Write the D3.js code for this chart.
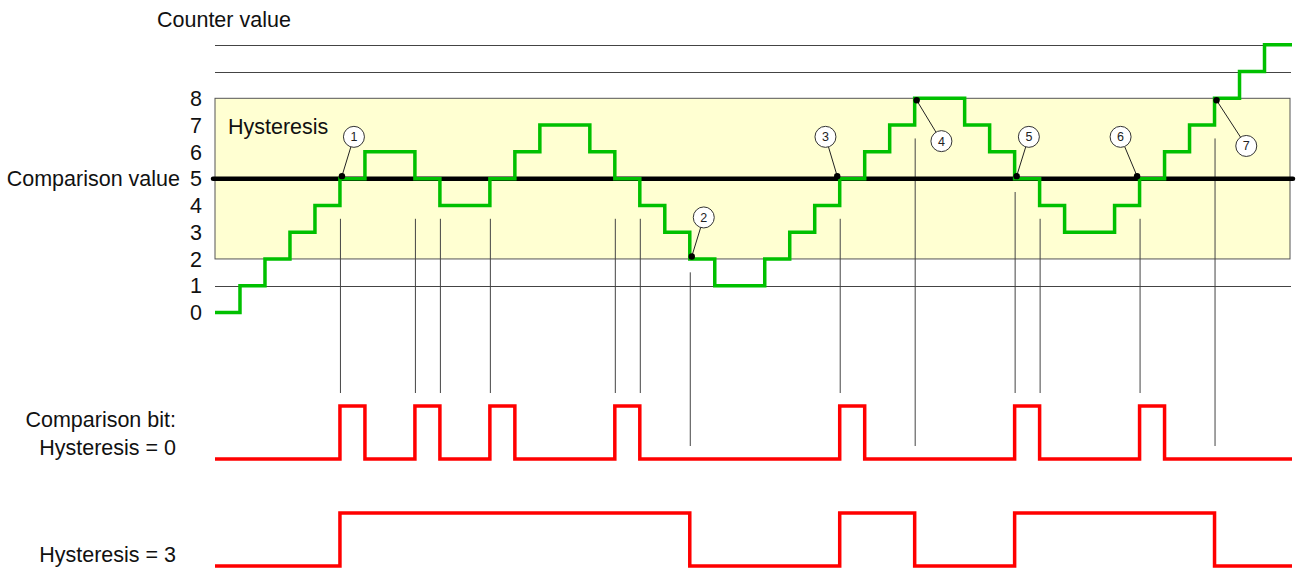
<!DOCTYPE html>
<html>
<head>
<meta charset="utf-8">
<script src="https://cdn.jsdelivr.net/npm/d3@7"></script>
<style>
  html, body { margin: 0; padding: 0; background: #fff; }
  svg { display: block; font-family: "Liberation Sans", Arial, sans-serif; }
</style>
</head>
<body>
<svg id="chart" width="1296" height="575"></svg>
<script>
// ---------------- data ----------------
// counter value at each time step (step width = one unit on the time axis)
const counterValues = [0,1,2,3,4,5,6,6,5,4,4,5,6,7,7,6,5,4,3,2,1,1,2,3,4,5,6,7,8,8,7,6,5,4,3,3,4,5,6,7,8,9,10];
// comparison bit, hysteresis = 0
const bitHyst0 = [0,0,0,0,0,1,0,0,1,0,0,1,0,0,0,0,1,0,0,0,0,0,0,0,0,1,0,0,0,0,0,0,1,0,0,0,0,1,0,0,0,0,0];
// comparison bit, hysteresis = 3
const bitHyst3 = [0,0,0,0,0,1,1,1,1,1,1,1,1,1,1,1,1,1,1,0,0,0,0,0,0,1,1,1,0,0,0,0,1,1,1,1,1,1,1,1,0,0,0];
const timeEnd = 43.1;

const yTicks = [0,1,2,3,4,5,6,7,8];
const gridValues = [1, 9, 10];
const comparisonValue = 5;
const hysteresisBand = [2, 8];

// vertical guide lines: time index and top (in counter units)
const guideIndex = [5, 8, 9, 11, 16, 17, 19, 25, 28, 32, 33, 37, 40];
const guideTop   = [3.5, 3.5, 3.5, 3.5, 3.5, 3.5, 1.5, 3.5, 6.5, 4.5, 3.5, 3.5, 6.5];

// numbered markers: time index, counter value, label offset (time units, counter units)
const markerNum = [1, 2, 3, 4, 5, 6, 7];
const markerIdx = [5, 19, 25, 28, 32, 37, 40];
const markerVal = [5, 2, 5, 8, 5, 5, 8];
const markerDx  = [0.56, 0.56, -0.57, 1.07, 0.57, -0.76, 1.27];
const markerDy  = [1.56, 1.55, 1.56, -1.6, 1.56, 1.56, -1.78];

const labels = {
  title: "Counter value",
  compValue: "Comparison value",
  hyst: "Hysteresis",
  bitLine1: "Comparison bit:",
  bitLine2: "Hysteresis = 0",
  hyst3: "Hysteresis = 3"
};

// ---------------- drawing ----------------
const svg = d3.select("#chart");
const FONT = "21.5px";

const x = d3.scaleLinear().domain([0, timeEnd]).range([215, 1292]);
const y = d3.scaleLinear().domain([0, 8]).range([312.5, 98.3]);
const ySig0 = d3.scaleLinear().domain([0, 1]).range([459, 406]);
const ySig3 = d3.scaleLinear().domain([0, 1]).range([566, 513]);

// hysteresis band
svg.append("rect")
  .attr("x", x(0)).attr("y", y(hysteresisBand[1]))
  .attr("width", x(timeEnd) - x(0) - 2)
  .attr("height", y(hysteresisBand[0]) - y(hysteresisBand[1]))
  .attr("fill", "#ffffd2").attr("stroke", "#555").attr("stroke-width", 1);

// grid lines
svg.selectAll("line.grid").data(gridValues).enter().append("line")
  .attr("class", "grid")
  .attr("x1", x(0)).attr("x2", x(timeEnd) - 1)
  .attr("y1", d => Math.round(y(d)) + 0.5).attr("y2", d => Math.round(y(d)) + 0.5)
  .attr("stroke", "#444").attr("stroke-width", 1);

// y tick labels
svg.selectAll("text.tick").data(yTicks).enter().append("text")
  .attr("class", "tick")
  .attr("x", 202).attr("y", d => y(d)).attr("dy", "0.36em")
  .attr("text-anchor", "end").attr("font-size", FONT).attr("fill", "#111")
  .text(d => d);

svg.append("text").attr("x", 180).attr("y", y(comparisonValue)).attr("dy", "0.36em")
  .attr("text-anchor", "end").attr("font-size", FONT).attr("fill", "#111")
  .text(labels.compValue);

svg.append("text").attr("x", 157).attr("y", 27).attr("font-size", FONT).attr("fill", "#111")
  .text(labels.title);

svg.append("text").attr("x", 228).attr("y", 133.5).attr("font-size", FONT).attr("fill", "#111")
  .text(labels.hyst);

// vertical guides
const guides = guideIndex.map((g, k) => ({ i: g, top: guideTop[k] }));
svg.selectAll("line.guide").data(guides).enter().append("line")
  .attr("class", "guide")
  .attr("x1", d => x(d.i) + 0.5).attr("x2", d => x(d.i) + 0.5)
  .attr("y1", d => y(d.top))
  .attr("y2", d => {
    const edge = bitHyst0[d.i] !== bitHyst0[d.i - 1];
    return edge ? ySig0(1) - 13 : ySig0(0) - 13;
  })
  .attr("stroke", "#444").attr("stroke-width", 1);

// comparison value line
svg.append("line")
  .attr("x1", 213).attr("x2", x(timeEnd) + 1)
  .attr("y1", y(comparisonValue)).attr("y2", y(comparisonValue))
  .attr("stroke", "#000").attr("stroke-width", 4.5).attr("stroke-linecap", "round");

// step helper
function stepPoints(arr) {
  const pts = arr.map((v, i) => [i, v]);
  pts.push([timeEnd, arr[arr.length - 1]]);
  return pts;
}

// counter value step line
const lineCounter = d3.line().curve(d3.curveStepAfter).x(d => x(d[0])).y(d => y(d[1]));
svg.append("path").attr("d", lineCounter(stepPoints(counterValues)))
  .attr("fill", "none").attr("stroke", "#00c000").attr("stroke-width", 3.5)
  .attr("stroke-linejoin", "miter");

// comparison bit signals
const lineSig0 = d3.line().curve(d3.curveStepAfter).x(d => x(d[0])).y(d => ySig0(d[1]));
const lineSig3 = d3.line().curve(d3.curveStepAfter).x(d => x(d[0])).y(d => ySig3(d[1]));
svg.append("path").attr("d", lineSig0(stepPoints(bitHyst0)))
  .attr("fill", "none").attr("stroke", "#ff0000").attr("stroke-width", 3.5);
svg.append("path").attr("d", lineSig3(stepPoints(bitHyst3)))
  .attr("fill", "none").attr("stroke", "#ff0000").attr("stroke-width", 3.5);

svg.append("text").attr("x", 176).attr("y", 427).attr("text-anchor", "end")
  .attr("font-size", FONT).attr("fill", "#111").text(labels.bitLine1);
svg.append("text").attr("x", 176).attr("y", 454.5).attr("text-anchor", "end")
  .attr("font-size", FONT).attr("fill", "#111").text(labels.bitLine2);
svg.append("text").attr("x", 176).attr("y", 561.5).attr("text-anchor", "end")
  .attr("font-size", FONT).attr("fill", "#111").text(labels.hyst3);

// markers
const markers = markerNum.map((n, k) => ({
  n, i: markerIdx[k], v: markerVal[k], dx: markerDx[k], dy: markerDy[k]
}));
const R = 10.5;
const mg = svg.selectAll("g.marker").data(markers).enter().append("g").attr("class", "marker");
mg.each(function(d) {
  const g = d3.select(this);
  const px = x(d.i) + (d.dx > 0 ? 2 : -2.5);
  const py = y(d.v) + (d.dy > 0 ? -2.5 : 2);
  const cx = x(d.i + d.dx), cy = y(d.v + d.dy);
  const ang = Math.atan2(py - cy, px - cx);
  g.append("line")
    .attr("x1", px).attr("y1", py)
    .attr("x2", cx + R * Math.cos(ang)).attr("y2", cy + R * Math.sin(ang))
    .attr("stroke", "#222").attr("stroke-width", 1);
  g.append("circle").attr("cx", px).attr("cy", py).attr("r", 3.2).attr("fill", "#000");
  g.append("circle").attr("cx", cx).attr("cy", cy).attr("r", R)
    .attr("fill", "#fff").attr("stroke", "#333").attr("stroke-width", 1);
  g.append("text").attr("x", cx).attr("y", cy).attr("dy", "0.36em")
    .attr("text-anchor", "middle").attr("font-size", "12.5px").attr("fill", "#222")
    .text(d.n);
});
</script>
</body>
</html>
